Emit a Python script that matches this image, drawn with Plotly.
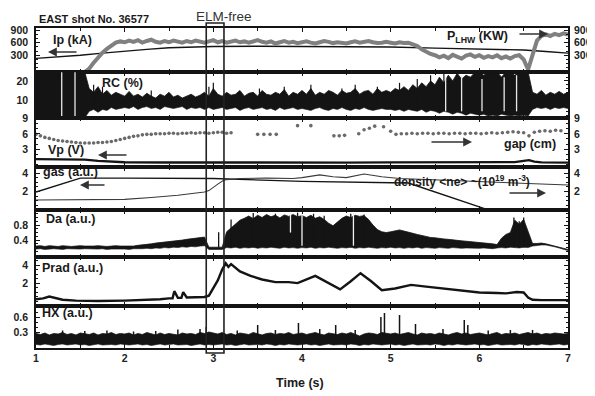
import plotly.graph_objects as go

# ---------------- data ----------------
time_ticks = [1, 2, 3, 4, 5, 6, 7]

# Panel 1 : Ip (kA) and P_LHW (kW)
ip_t = [1.0, 1.25, 1.5, 1.75, 2.0, 2.25, 2.5, 2.75, 3.0, 3.5, 4.0, 4.5, 5.0, 5.5, 6.0, 6.5, 6.75, 7.0]
ip_kA = [225, 260, 300, 350, 400, 440, 480, 500, 510, 515, 512, 505, 495, 470, 440, 425, 390, 350]

plhw_t0, plhw_dt = 1.55, 0.05
plhw_kW = [-100, -20, 120, 250, 360, 450, 540, 600, 630,
           610, 650, 620, 660, 600, 640, 670, 620, 600, 640, 610, 650, 620, 600, 640, 610, 650, 620, 600, 630,
           660, 610, 640, 600, 620, 650, 610, 630, 600, 640, 660, 620, 600, 630, 580, 610, 640, 600, 620, 590,
           610, 630, 600, 580, 610, 640, 620, 590, 610, 600, 580, 610, 630, 600, 620, 640, 610, 590, 600, 620,
           600, 580, 610, 590, 600, 570, 520, 440, 380, 330, 300, 250, 290, 230, 310, 260, 220, 290, 320, 260,
           300, 240, 280, 250, 300, 230, 270, 220, 280, 300, 200, -40, 350, 650, 760, 800, 760, 810, 780, 820,
           790]

# Panel 2 : RC (%)  -- envelope of the noisy trace, 0.05 s sampling from 1.00 s
rc_t0, rc_dt = 1.0, 0.05
rc_hi = [24.7] * 12 + [16, 14, 17, 13, 15, 12.5, 14, 13,
         12, 14.5, 12, 13, 11.5, 13.5, 12, 11, 13, 12, 14, 11.5, 12.5, 11, 12, 13, 11.5, 12.5, 14, 12,
         16, 13, 12, 14, 12.5, 13, 15, 12, 13.5, 14, 12, 15, 13, 12.5, 14, 13, 15.5, 12, 14, 13,
         15, 13, 16, 12.5, 14, 13, 15, 14, 12.5, 15, 13.5, 14, 16, 13, 14.5, 15, 13, 16, 14, 15,
         14, 16, 15, 17, 15, 18, 16, 19, 17, 20, 18, 22, 19, 23, 20, 24, 21, 23, 22, 24.5,
         24.7, 23, 24.7, 24, 24.7, 22, 24.7, 24.7, 23, 24.7, 24.7, 24.7, 14, 13, 15, 12.5, 14, 13, 14.5, 13,
         14]
rc_lo = [0.5] * 12 + [4, 5, 3.5, 5, 4.5, 6, 5, 5.5,
         6, 5.5, 6.5, 5, 6, 6.5, 5.5, 6, 5, 6.5, 6, 5.5, 6, 6.5, 5, 6, 5.5, 6, 5, 6,
         5, 5.5, 6, 5, 5.5, 6, 4.5, 5.5, 6, 5, 5.5, 6, 5, 5.5, 4.5, 6, 5, 5.5, 6, 5,
         5.5, 5, 4.5, 5.5, 6, 5, 4.5, 5.5, 5, 6, 5, 4.5, 5.5, 5, 6, 5, 4.5, 5, 5.5, 5,
         5, 4.5, 5, 4, 5, 4.5, 4, 5, 3.5, 4.5, 4, 3, 4, 3.5, 2.5, 3.5, 3, 2, 3, 2.5,
         2, 2.5, 1.5, 2, 1.5, 2.5, 2, 1.5, 2, 1.5, 2, 1.5, 5, 6, 5.5, 6, 5, 6, 5.5, 6,
         5.5]
rc_spike_t = [1.65, 1.75, 2.3, 2.95, 3.0, 3.52, 3.8, 4.1, 4.45, 4.6, 4.85, 5.1, 5.3, 5.45, 5.6]
rc_spike_top = [18, 17, 15, 17, 19, 16, 17, 18, 16, 18, 17, 19, 21, 23, 24.7]
rc_white_t = [1.29, 1.44, 5.62, 5.8, 6.03, 6.28, 6.42]
rc_white_lo = [0.6, 0.6, 4, 4, 4, 4, 4]
rc_white_hi = [24.6, 24.6, 22, 23, 21, 22, 23]

# Panel 3 : gap (cm) and Vp (V)
gap_t = [1.00, 1.05, 1.10, 1.15, 1.20, 1.25, 1.30, 1.35, 1.40, 1.45,
         1.50, 1.55, 1.60, 1.65, 1.70, 1.75, 1.80, 1.85, 1.90, 1.95,
         2.00, 2.05, 2.10, 2.15, 2.20, 2.25, 2.30, 2.35, 2.40, 2.45,
         2.50, 2.55, 2.60, 2.65, 2.70, 2.75, 2.80, 2.85, 2.90, 2.95,
         3.00, 3.05, 3.10, 3.15, 3.20,
         3.50, 3.57, 3.64, 3.71, 3.95, 4.10, 4.36, 4.42, 4.48,
         4.64, 4.70, 4.76, 4.82, 4.92, 5.00,
         5.06, 5.12, 5.18, 5.24, 5.30, 5.36, 5.42, 5.48, 5.54, 5.60,
         5.66, 5.72, 5.78, 5.84, 5.90, 5.96, 6.02, 6.08, 6.14, 6.20,
         6.26, 6.32, 6.38, 6.44, 6.50, 6.56, 6.62, 6.68, 6.74, 6.80, 6.86, 6.92]
gap_cm = [5.9, 5.6, 5.3, 5.1, 4.9, 4.7, 4.6, 4.5, 4.4, 4.3,
          4.2, 4.2, 4.2, 4.2, 4.3, 4.3, 4.4, 4.5, 4.7, 4.9,
          5.1, 5.3, 5.5, 5.6, 5.8, 5.9, 5.9, 6.0, 6.0, 6.0,
          6.1, 6.1, 6.0, 6.1, 6.1, 6.2, 6.1, 6.2, 6.2, 6.1,
          6.2, 6.3, 6.3, 6.1, 6.2,
          5.9, 5.9, 5.9, 5.9, 7.6, 7.6, 5.6, 5.6, 5.7,
          6.0, 6.8, 7.1, 7.5, 7.4, 6.5,
          5.9, 6.0, 6.0, 6.1, 6.0, 6.1, 6.1, 6.0, 6.1, 6.1,
          6.0, 6.1, 6.1, 6.0, 6.1, 6.1, 6.0, 6.1, 6.2, 6.1,
          6.2, 6.3, 6.4, 6.3, 6.2, 5.6, 6.3, 6.5, 6.6, 6.5, 6.7, 6.6]
vp_t = [1.0, 1.2, 1.4, 1.55, 1.7, 1.85, 2.0, 2.5, 3.0, 3.5, 4.0, 4.5, 5.0, 5.5, 6.0, 6.4, 6.5, 6.56, 6.62, 6.7, 7.0]
vp_V = [1.05, 1.05, 1.0, 0.95, 0.7, 0.5, 0.42, 0.38, 0.35, 0.38, 0.4, 0.36, 0.4, 0.4, 0.42, 0.45, 0.7, 0.85, 0.55, 0.4, 0.35]

# Panel 4 : gas (a.u.) and line-averaged density (1e19 m^-3)
gas_t = [1.0, 1.5, 2.0, 3.0, 4.0, 5.2, 6.1, 7.0]
gas_au = [1.95, 3.45, 3.45, 3.4, 3.1, 2.92, 0.02, 0.02]
ne_t = [1.0, 1.5, 1.8, 2.0, 2.3, 2.6, 2.9, 2.95, 3.05, 3.12, 3.3, 3.6, 3.9, 4.0, 4.2, 4.35, 4.5,
        4.7, 4.9, 5.1, 5.4, 5.7, 6.0, 6.3, 6.6, 7.0]
ne = [1.08, 1.08, 1.08, 1.15, 1.35, 1.6, 1.95, 2.1, 2.8, 3.25, 3.4, 3.45, 3.4, 3.5, 3.8, 3.6, 3.5,
      3.9, 3.6, 3.4, 3.3, 3.2, 3.1, 3.0, 2.9, 2.7]

# Panel 5 : D-alpha (a.u.) envelope, 0.05 s sampling from 1.00 s
da_t0, da_dt = 1.0, 0.05
da_hi = [0.24, 0.25, 0.23, 0.25, 0.24, 0.23, 0.25, 0.24, 0.23, 0.24, 0.25, 0.24, 0.23, 0.24, 0.25, 0.24, 0.23, 0.24, 0.25, 0.24,
         0.24, 0.25, 0.24, 0.26, 0.27, 0.29, 0.30, 0.32, 0.33, 0.35, 0.36, 0.38, 0.39, 0.40, 0.42, 0.43, 0.44, 0.46, 0.48, 0.21,
         0.21, 0.21, 0.21, 0.62, 0.72, 0.82, 0.93, 0.98, 1.04, 0.97, 1.06, 1.00, 1.08, 1.02, 1.06, 0.99, 1.07, 1.03, 1.08, 1.02,
         1.05, 1.00, 1.06, 0.98, 1.02, 0.95, 0.85, 0.78, 0.88, 0.98, 1.04, 1.00, 1.06, 1.03, 1.05, 0.95, 0.80, 0.68, 0.62, 0.60,
         0.62, 0.65, 0.67, 0.64, 0.60, 0.58, 0.55, 0.52, 0.50, 0.47, 0.46, 0.44, 0.43, 0.42, 0.40, 0.39, 0.38, 0.37, 0.36, 0.35,
         0.34, 0.33, 0.31, 0.30, 0.28, 0.45, 0.55, 0.60, 0.93, 0.82, 0.95, 0.60, 0.31, 0.31, 0.32, 0.30, 0.27, 0.24, 0.21, 0.18,
         0.15]
da_lo = [0.16, 0.17, 0.15, 0.16, 0.17, 0.16, 0.15, 0.17, 0.16, 0.15, 0.16, 0.17, 0.16, 0.15, 0.16, 0.17, 0.15, 0.16, 0.17, 0.16,
         0.16, 0.15, 0.17, 0.16, 0.17, 0.18, 0.17, 0.19, 0.18, 0.20, 0.19, 0.21, 0.20, 0.22, 0.21, 0.23, 0.22, 0.24, 0.25, 0.15,
         0.15, 0.15, 0.15, 0.20, 0.19, 0.21, 0.18, 0.20, 0.19, 0.21, 0.18, 0.20, 0.19, 0.21, 0.20, 0.18, 0.21, 0.19, 0.20, 0.18,
         0.20, 0.19, 0.21, 0.18, 0.20, 0.19, 0.21, 0.20, 0.18, 0.20, 0.19, 0.21, 0.18, 0.20, 0.19, 0.21, 0.20, 0.18, 0.20, 0.19,
         0.21, 0.19, 0.20, 0.18, 0.20, 0.19, 0.21, 0.18, 0.20, 0.19, 0.18, 0.20, 0.19, 0.18, 0.20, 0.19, 0.18, 0.19, 0.18, 0.19,
         0.18, 0.19, 0.18, 0.17, 0.19, 0.20, 0.19, 0.21, 0.20, 0.19, 0.21, 0.20, 0.24, 0.26, 0.27, 0.27, 0.25, 0.22, 0.19, 0.16,
         0.12]
da_spike_t = [3.06, 3.2, 3.45, 3.7, 3.95, 4.13, 4.25, 4.55, 4.7, 6.39, 6.45, 6.5]
da_spike_top = [0.61, 0.95, 1.12, 1.1, 1.13, 1.1, 1.05, 1.1, 1.08, 1.0, 0.9, 1.0]
da_white_t = [3.87, 4.0, 4.58]
da_white_lo = [0.6, 0.25, 0.25]
da_white_hi = [1.15, 1.15, 1.15]

# Panel 6 : Prad (a.u.)
prad_t = [1.0, 1.08, 1.15, 1.22, 1.3, 1.45, 1.7, 2.0, 2.2, 2.4,
          2.5, 2.54, 2.56, 2.6, 2.64, 2.66, 2.7, 2.8, 2.9, 2.95,
          3.0, 3.05, 3.1, 3.14, 3.17, 3.2, 3.3, 3.42, 3.55, 3.7,
          3.85, 3.95, 4.15, 4.3, 4.43, 4.55, 4.66, 4.78, 4.9, 5.05,
          5.23, 5.4, 5.6, 5.8, 6.0, 6.2, 6.3, 6.42, 6.5, 6.55,
          6.6, 6.7, 7.0]
prad_au = [0.2, 0.3, 0.5, 0.3, 0.15, 0.05, 0.0, 0.05, 0.1, 0.2,
           0.3, 0.3, 1.1, 0.35, 0.35, 1.0, 0.4, 0.45, 0.45, 0.6,
           1.4, 2.3, 3.5, 4.2, 3.8, 4.1, 3.3, 2.8, 2.4, 2.1,
           2.1, 2.0, 2.8, 2.0, 1.3, 2.2, 3.1, 2.2, 1.2, 1.4,
           1.8, 1.6, 1.4, 1.2, 0.95, 0.9, 0.85, 1.0, 0.95, 0.4,
           0.15, 0.1, 0.1]

# Panel 7 : HX (a.u.) envelope, 0.05 s sampling from 1.00 s
hx_t0, hx_dt = 1.0, 0.05
hx_hi = [0.27, 0.25, 0.28, 0.24, 0.27, 0.26, 0.29, 0.25, 0.27, 0.24, 0.28, 0.26, 0.25, 0.28, 0.24, 0.27, 0.26, 0.29, 0.25, 0.27,
         0.26, 0.28, 0.24, 0.27, 0.25, 0.29, 0.26, 0.24, 0.28, 0.25, 0.27, 0.26, 0.24, 0.28, 0.26, 0.27, 0.25, 0.29, 0.27, 0.30,
         0.28, 0.26, 0.29, 0.25, 0.27, 0.24, 0.28, 0.26, 0.25, 0.29, 0.26, 0.24, 0.27, 0.28, 0.25, 0.27, 0.26, 0.29, 0.25, 0.27,
         0.28, 0.25, 0.27, 0.29, 0.26, 0.24, 0.28, 0.27, 0.25, 0.28, 0.26, 0.29, 0.25, 0.22, 0.26, 0.28, 0.27, 0.25, 0.29, 0.27,
         0.26, 0.28, 0.25, 0.27, 0.29, 0.26, 0.24, 0.28, 0.26, 0.27, 0.25, 0.28, 0.26, 0.24, 0.27, 0.29, 0.26, 0.28, 0.25, 0.27,
         0.28, 0.26, 0.24, 0.27, 0.29, 0.25, 0.27, 0.26, 0.28, 0.25, 0.27, 0.29, 0.26, 0.28, 0.25, 0.27, 0.26, 0.28, 0.27, 0.26,
         0.27]
hx_lo = [0.05, 0.04, 0.06, 0.05, 0.03, 0.05, 0.06, 0.04, 0.05, 0.06, 0.04, 0.05, 0.03, 0.05, 0.06, 0.04, 0.05, 0.05, 0.04, 0.06,
         0.05, 0.04, 0.05, 0.06, 0.04, 0.05, 0.03, 0.05, 0.06, 0.04, 0.05, 0.06, 0.04, 0.05, 0.05, 0.03, 0.05, 0.06, 0.04, 0.05,
         0.04, 0.05, 0.06, 0.04, 0.05, 0.03, 0.05, 0.06, 0.04, 0.05, 0.05, 0.04, 0.06, 0.05, 0.03, 0.05, 0.04, 0.06, 0.05, 0.04,
         0.05, 0.06, 0.04, 0.05, 0.03, 0.05, 0.06, 0.04, 0.05, 0.05, 0.04, 0.06, 0.05, 0.03, 0.05, 0.04, 0.06, 0.05, 0.04, 0.05,
         0.06, 0.04, 0.05, 0.03, 0.05, 0.06, 0.04, 0.05, 0.05, 0.04, 0.06, 0.05, 0.03, 0.05, 0.04, 0.06, 0.05, 0.04, 0.05, 0.06,
         0.04, 0.05, 0.03, 0.05, 0.06, 0.04, 0.05, 0.05, 0.04, 0.06, 0.05, 0.03, 0.05, 0.04, 0.06, 0.05, 0.04, 0.05, 0.06, 0.04,
         0.05]
hx_spike_t = [1.3, 1.55, 1.8, 2.1, 2.35, 2.6, 2.85, 2.92, 3.27, 3.5, 3.7, 3.96, 4.2, 4.38, 4.6,
              4.89, 4.93, 5.1, 5.28, 5.59, 5.83, 5.87, 6.1, 6.35, 6.6]
hx_spike_top = [0.33, 0.32, 0.33, 0.31, 0.32, 0.35, 0.36, 0.40, 0.33, 0.44, 0.34, 0.48, 0.36, 0.44, 0.34,
                0.60, 0.68, 0.64, 0.46, 0.36, 0.54, 0.44, 0.33, 0.34, 0.34]

elm_free_window = [2.92, 3.12]

# ---------------- layout helpers ----------------
# The page body has an 8 px margin, so the figure is 8 px smaller than the window
# and every target position below is given in window pixels.
PAGE_OFF = 8
W, H = 595 - PAGE_OFF, 396 - PAGE_OFF
X0, X1, Y0, Y1 = 36, 568, 28, 348          # plot area in window pixels
ML, MR, MT, MB = X0 - PAGE_OFF, 595 - X1, Y0 - PAGE_OFF, 396 - Y1
PW, PH = X1 - X0, Y1 - Y0
bounds = [28, 72, 118, 167, 210, 257, 306, 348]   # panel edges (window px)


def xpp(x):
    return (x - X0) / PW


def ypp(y):
    return (Y1 - y) / PH


def dom(k):
    return [ypp(bounds[k + 1]), ypp(bounds[k])]


def grid(t0, dt, n):
    return [round(t0 + dt * i, 4) for i in range(n)]


def segs(ts, lo, hi):
    xs, ys = [], []
    for t, a, b in zip(ts, lo, hi):
        xs += [t, t, None]
        ys += [a, b, None]
    return xs, ys


BLACK = "#141414"
GRAY = "#808080"
FONT = "Liberation Sans"

fig = go.Figure()


def add(tr):
    tr.update(showlegend=False, hoverinfo="skip")
    fig.add_trace(tr)


def band(t, lo, hi, xa, ya, color=BLACK):
    add(go.Scatter(x=t, y=lo, mode="lines", line=dict(width=0.6, color=color), xaxis=xa, yaxis=ya))
    add(go.Scatter(x=t, y=hi, mode="lines", fill="tonexty", fillcolor=color,
                   line=dict(width=0.8, color=color), xaxis=xa, yaxis=ya))


# Panel 1
add(go.Scatter(x=grid(plhw_t0, plhw_dt, len(plhw_kW)), y=plhw_kW, mode="lines",
               line=dict(color=GRAY, width=4), xaxis="x", yaxis="y8"))
add(go.Scatter(x=ip_t, y=ip_kA, mode="lines", line=dict(color=BLACK, width=1.4), xaxis="x", yaxis="y"))

# Panel 2
band(grid(rc_t0, rc_dt, len(rc_hi)), rc_lo, rc_hi, "x2", "y2")
sx, sy = segs(rc_spike_t, [8] * len(rc_spike_t), rc_spike_top)
add(go.Scatter(x=sx, y=sy, mode="lines", line=dict(color=BLACK, width=1.2), xaxis="x2", yaxis="y2"))
sx, sy = segs(rc_white_t, rc_white_lo, rc_white_hi)
add(go.Scatter(x=sx, y=sy, mode="lines", line=dict(color="#e8e8e8", width=1.3), xaxis="x2", yaxis="y2"))

# Panel 3
add(go.Scatter(x=gap_t, y=gap_cm, mode="markers", marker=dict(color="#6a6a6a", size=3.6),
               xaxis="x3", yaxis="y9"))
add(go.Scatter(x=vp_t, y=vp_V, mode="lines", line=dict(color=BLACK, width=2.4), xaxis="x3", yaxis="y3"))

# Panel 4
add(go.Scatter(x=ne_t, y=ne, mode="lines", line=dict(color="#3a3a3a", width=1.1), xaxis="x4", yaxis="y10"))
add(go.Scatter(x=gas_t, y=gas_au, mode="lines", line=dict(color=BLACK, width=1.4), xaxis="x4", yaxis="y4"))

# Panel 5
band(grid(da_t0, da_dt, len(da_hi)), da_lo, da_hi, "x5", "y5")
sx, sy = segs(da_spike_t, [0.2] * len(da_spike_t), da_spike_top)
add(go.Scatter(x=sx, y=sy, mode="lines", line=dict(color=BLACK, width=1.3), xaxis="x5", yaxis="y5"))
sx, sy = segs(da_white_t, da_white_lo, da_white_hi)
add(go.Scatter(x=sx, y=sy, mode="lines", line=dict(color="#f0f0f0", width=1.3), xaxis="x5", yaxis="y5"))

# Panel 6
add(go.Scatter(x=prad_t, y=prad_au, mode="lines", line=dict(color=BLACK, width=2.4), xaxis="x6", yaxis="y6"))

# Panel 7
band(grid(hx_t0, hx_dt, len(hx_hi)), hx_lo, hx_hi, "x7", "y7")
sx, sy = segs(hx_spike_t, [0.2] * len(hx_spike_t), hx_spike_top)
add(go.Scatter(x=sx, y=sy, mode="lines", line=dict(color=BLACK, width=1.5), xaxis="x7", yaxis="y7"))

# ---------------- axes ----------------
tickfont = dict(family=FONT, size=10.5, color="#222", weight="bold")

y_cfg = {
    1: dict(range=[-100, 950], tickvals=[300, 600, 900]),
    2: dict(range=[0.5, 24.7], tickvals=[10, 20]),
    3: dict(range=[-0.5, 9.1], tickvals=[3, 6, 9]),
    4: dict(range=[0.0, 4.65], tickvals=[2, 4]),
    5: dict(range=[-0.05, 1.2], tickvals=[0.4, 0.8]),
    6: dict(range=[-0.55, 4.9], tickvals=[2, 4]),
    7: dict(range=[-0.02, 0.82], tickvals=[0.3, 0.6]),
}
layout = {}
for k in range(1, 8):
    sfx = "" if k == 1 else str(k)
    xa = dict(domain=[0, 1], anchor="y" + sfx, range=[1, 7], tickvals=time_ticks,
              ticks="inside", ticklen=4, tickwidth=1.2, tickcolor=BLACK,
              minor=dict(ticks="inside", ticklen=3, tickcolor=BLACK, dtick=0.5, tick0=1),
              mirror="ticks", showline=True, linecolor=BLACK, linewidth=1.6,
              showgrid=False, zeroline=False, showticklabels=(k == 7), tickfont=tickfont)
    if k > 1:
        xa["matches"] = "x"
    layout["xaxis" + sfx] = xa
    ya = dict(domain=dom(k - 1), anchor="x" + sfx, ticks="inside", ticklen=4, tickwidth=1.2,
              tickcolor=BLACK, mirror="ticks", showline=True, linecolor=BLACK, linewidth=1.6,
              showgrid=False, zeroline=False, tickfont=tickfont, ticklabelstandoff=4,
              minor=dict(ticks="inside", ticklen=2.5, tickcolor=BLACK, nticks=3),
              **y_cfg[k])
    layout["yaxis" + sfx] = ya

for name, k, ref in [("yaxis8", 1, "y"), ("yaxis9", 3, "y3"), ("yaxis10", 4, "y4")]:
    sfx = "" if k == 1 else str(k)
    layout[name] = dict(overlaying=ref, side="right", anchor="x" + sfx, showgrid=False,
                        zeroline=False, showline=False, ticks="", tickfont=tickfont,
                        ticklabelstandoff=5, **y_cfg[k])

fig.update_layout(**layout)

# ---------------- annotations ----------------
ann = []


def text(s, x, y, size=12, xanchor="left", bold=True, color="#1a1a1a"):
    ann.append(dict(text=s, x=xpp(x), y=ypp(y), xref="paper", yref="paper", showarrow=False,
                    xanchor=xanchor, yanchor="middle",
                    font=dict(family=FONT, size=size, color=color, weight="bold" if bold else "normal")))


def arrow(xh, yh, dx):
    ann.append(dict(text="", x=xpp(xh), y=ypp(yh), xref="paper", yref="paper", showarrow=True,
                    ax=dx, ay=0, arrowhead=2, arrowsize=1.1, arrowwidth=1.6, arrowcolor="#333"))


text("EAST shot No. 36577", 37, 19, size=11)
text("ELM-free", 224, 16.5, size=13.5, xanchor="center", bold=False, color="#333")
text("Ip (kA)", 51, 40, size=12.5)
text("P<sub>LHW</sub> (KW)", 445, 37, size=12.5)
text("RC (%)", 100, 83, size=12.5)
text("Vp (V)", 46, 150, size=12.5)
text("gap (cm)", 502, 144, size=12.5)
text("gas (a.u.)", 41, 172, size=12.5)
text("density &lt;ne&gt; ~(10<sup>19</sup> m<sup>-3</sup>)", 392, 181, size=12)
text("Da (a.u.)", 44, 219, size=12.5)
text("Prad (a.u.)", 40, 268, size=12.5)
text("HX (a.u.)", 40, 313, size=12.5)
text("Time (s)", 300, 383, size=12.5, xanchor="center")

arrow(48, 52, 30)      # Ip -> left axis
arrow(548, 34, -30)    # P_LHW -> right axis
arrow(98, 155, 30)     # Vp -> left axis
arrow(472, 142, -42)   # gap -> right axis
arrow(80, 185, 26)     # gas -> left axis
arrow(546, 193, -38)   # density -> right axis

# ELM-free window
shapes = [dict(type="rect", xref="x", yref="paper", x0=elm_free_window[0], x1=elm_free_window[1],
               y0=ypp(353), y1=ypp(23), line=dict(color="#222", width=1.6))]

fig.update_layout(width=W, height=H, margin=dict(l=ML, r=MR, t=MT, b=MB, autoexpand=False),
                  paper_bgcolor="white", plot_bgcolor="white",
                  annotations=ann, shapes=shapes, showlegend=False,
                  font=dict(family=FONT))

fig.write_html("out.html")
